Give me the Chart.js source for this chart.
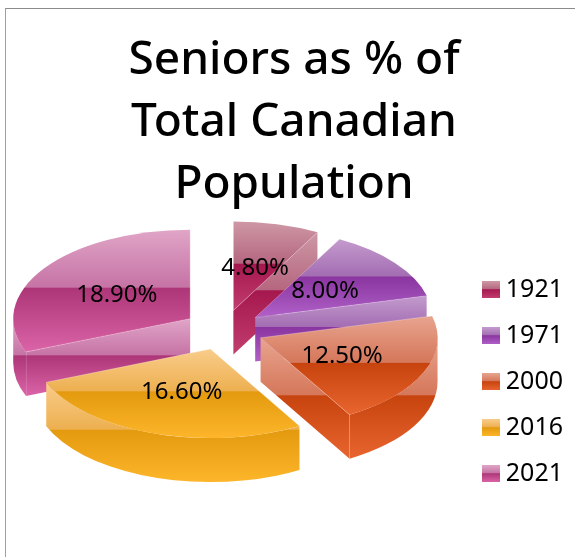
<!DOCTYPE html>
<html>
<head>
<meta charset="utf-8">
<title>Seniors as % of Total Canadian Population</title>
<style>
  html, body { margin: 0; padding: 0; background: #fff; overflow: hidden; }
  #wrap { position: relative; width: 575px; height: 557px; }
  #frame { position: absolute; left: 5px; top: 8px; right: 0; bottom: 0;
           border-left: 1.5px solid #a0a0a0; border-top: 1px solid #8c8c8c; }
</style>
<script src="https://cdn.jsdelivr.net/npm/chart.js@4"></script>
</head>
<body>
<div id="wrap">
  <div id="frame"></div>
  <canvas id="pieChart" width="575" height="557" style="position:absolute;left:0;top:0"></canvas>
</div>
<script>
const years = ['1921', '1971', '2000', '2016', '2021'];
const seniorPercents = [4.8, 8.0, 12.5, 16.6, 18.9];
const titleLines = ['Seniors as % of', 'Total Canadian', 'Population'];

// top, before band, band, bottom
const shades = [
  ['#ce98a6', '#b5677f', '#a5184f', '#c23d6e'],
  ['#c49bce', '#a36db2', '#8a35a0', '#b061c8'],
  ['#e8a48f', '#d5775a', '#c8440f', '#e8652f'],
  ['#f9cc8b', '#edb050', '#e39a0e', '#fdb52b'],
  ['#e0a5c7', '#c673a5', '#ad3678', '#db64a8'],
];

const fontFamily = '"Noto Sans", sans-serif';

// where the tilted pie sits on the page
const pie3d = { cx: 223.5, cy: 330, rx: 177, ry: 89, depth: 44, explode: 0.227, labelAt: 0.5 };

function bandGradient(ctx, y0, y1, colors) {
  const g = ctx.createLinearGradient(0, y0, 0, y1);
  g.addColorStop(0, colors[0]);
  g.addColorStop(0.47, colors[1]);
  g.addColorStop(0.48, colors[2]);
  g.addColorStop(1, colors[3]);
  return g;
}

function swatch(colors) {
  const c = document.createElement('canvas');
  c.width = 18;
  c.height = 17;
  const x = c.getContext('2d');
  x.fillStyle = bandGradient(x, 0, 17, colors);
  x.fillRect(0, 0, 18, 17);
  return c;
}

// screen position of the slice tip
function sliceTip(arc) {
  const mid = (arc.startAngle + arc.endAngle) / 2;
  return {
    x: pie3d.cx + Math.cos(mid) * pie3d.explode * pie3d.rx,
    y: pie3d.cy + Math.sin(mid) * pie3d.explode * pie3d.ry,
  };
}

function drawWalls(ctx, arc, colors) {
  const tip = sliceTip(arc);
  const s = arc.startAngle;
  const e = arc.endAngle;
  const rim = (a) => ({ x: tip.x + Math.cos(a) * pie3d.rx, y: tip.y + Math.sin(a) * pie3d.ry });
  const walls = [];

  if (-Math.cos(s) > 1e-6) walls.push({ from: rim(s) });
  if (Math.cos(e) > 1e-6) walls.push({ from: rim(e) });
  const a0 = Math.max(s, 0);
  const a1 = Math.min(e, Math.PI);
  const hasOuter = a1 > a0;

  // one gradient box shared by all the walls of the slice
  let top = Infinity;
  let bottom = -Infinity;
  walls.forEach((w) => {
    top = Math.min(top, tip.y, w.from.y);
    bottom = Math.max(bottom, tip.y, w.from.y);
  });
  if (hasOuter) {
    [a0, a1, Math.PI / 2].forEach((a) => {
      if (a < a0 || a > a1) return;
      top = Math.min(top, rim(a).y);
      bottom = Math.max(bottom, rim(a).y);
    });
  }
  if (top === Infinity) return;
  ctx.fillStyle = bandGradient(ctx, top, bottom + pie3d.depth, colors);
  ctx.strokeStyle = 'rgba(255,255,255,0.3)';
  ctx.lineWidth = 1;

  walls.forEach((w) => {
    ctx.beginPath();
    ctx.moveTo(tip.x, tip.y);
    ctx.lineTo(w.from.x, w.from.y);
    ctx.lineTo(w.from.x, w.from.y + pie3d.depth);
    ctx.lineTo(tip.x, tip.y + pie3d.depth);
    ctx.closePath();
    ctx.fill();
    ctx.beginPath();
    ctx.moveTo(w.from.x, w.from.y + pie3d.depth);
    ctx.lineTo(w.from.x, w.from.y);
    ctx.stroke();
  });

  if (hasOuter) {
    ctx.beginPath();
    ctx.ellipse(tip.x, tip.y, pie3d.rx, pie3d.ry, 0, a0, a1);
    ctx.ellipse(tip.x, tip.y + pie3d.depth, pie3d.rx, pie3d.ry, 0, a1, a0, true);
    ctx.closePath();
    ctx.fill();
  }
}

function drawTop(ctx, arc, colors) {
  const r = arc.outerRadius;
  const tip = sliceTip(arc);
  const s = arc.startAngle;
  const e = arc.endAngle;
  const sines = [0, Math.sin(s), Math.sin(e)];
  if (s < Math.PI / 2 && e > Math.PI / 2) sines.push(1);
  if (s < -Math.PI / 2 + 1e-6 || (s < 3 * Math.PI / 2 && e > 3 * Math.PI / 2)) sines.push(-1);

  ctx.save();
  ctx.translate(tip.x, tip.y);
  ctx.scale(pie3d.rx / r, pie3d.ry / r);
  ctx.translate(-arc.x, -arc.y);
  arc.options = Object.assign({}, arc.options, {
    backgroundColor: bandGradient(ctx, arc.y + Math.min(...sines) * r, arc.y + Math.max(...sines) * r, colors),
    borderWidth: 0,
  });
  arc.draw(ctx);
  ctx.restore();

  // pale edge along the two cut sides
  ctx.strokeStyle = 'rgba(255,255,255,0.25)';
  ctx.lineWidth = 1;
  ctx.beginPath();
  ctx.moveTo(tip.x + Math.cos(s) * pie3d.rx, tip.y + Math.sin(s) * pie3d.ry);
  ctx.lineTo(tip.x, tip.y);
  ctx.lineTo(tip.x + Math.cos(e) * pie3d.rx, tip.y + Math.sin(e) * pie3d.ry);
  ctx.stroke();
}

const tiltedPie = {
  id: 'tiltedPie',
  beforeDatasetsDraw(chart) {
    const ctx = chart.ctx;
    const arcs = chart.getDatasetMeta(0).data;
    const order = arcs.map((arc, i) => i).sort((i, j) => {
      const mi = (arcs[i].startAngle + arcs[i].endAngle) / 2;
      const mj = (arcs[j].startAngle + arcs[j].endAngle) / 2;
      return Math.sin(mi) - Math.sin(mj);
    });
    order.forEach((i) => {
      drawWalls(ctx, arcs[i], shades[i]);
      drawTop(ctx, arcs[i], shades[i]);
    });
    return false;
  },
  afterDraw(chart) {
    const ctx = chart.ctx;
    ctx.save();
    ctx.fillStyle = '#000';
    ctx.font = '24px ' + fontFamily;
    ctx.textAlign = 'center';
    ctx.textBaseline = 'middle';
    chart.getDatasetMeta(0).data.forEach((arc, i) => {
      const tip = sliceTip(arc);
      const mid = (arc.startAngle + arc.endAngle) / 2;
      const x = tip.x + Math.cos(mid) * pie3d.rx * pie3d.labelAt;
      const y = tip.y + Math.sin(mid) * pie3d.ry * pie3d.labelAt + 1;
      ctx.fillText(seniorPercents[i].toFixed(2) + '%', x, y);
    });
    ctx.restore();
  },
};

new Chart(document.getElementById('pieChart').getContext('2d'), {
  type: 'pie',
  data: {
    labels: years,
    datasets: [{
      data: seniorPercents,
      backgroundColor: shades.map((c) => c[2]),
      borderWidth: 0,
    }],
  },
  options: {
    responsive: false,
    animation: false,
    layout: { padding: { left: 15, right: 2, top: 0, bottom: 10 } },
    plugins: {
      tooltip: { enabled: false },
      title: {
        display: true,
        text: titleLines,
        color: '#000',
        font: { family: fontFamily, size: 46, weight: 500, lineHeight: 1.35 },
        padding: { top: 30, bottom: 0 },
      },
      legend: {
        position: 'right',
        fullSize: false,
        labels: {
          color: '#000',
          font: { family: fontFamily, size: 25 },
          padding: 21,
          usePointStyle: true,
          pointStyleWidth: 5,
          generateLabels: () => years.map((year, i) => ({
            text: year,
            pointStyle: swatch(shades[i]),
            fontColor: '#000',
            lineWidth: 0,
            strokeStyle: 'transparent',
            fillStyle: shades[i][2],
            index: i,
          })),
        },
      },
    },
  },
  plugins: [tiltedPie],
});
</script>
</body>
</html>
